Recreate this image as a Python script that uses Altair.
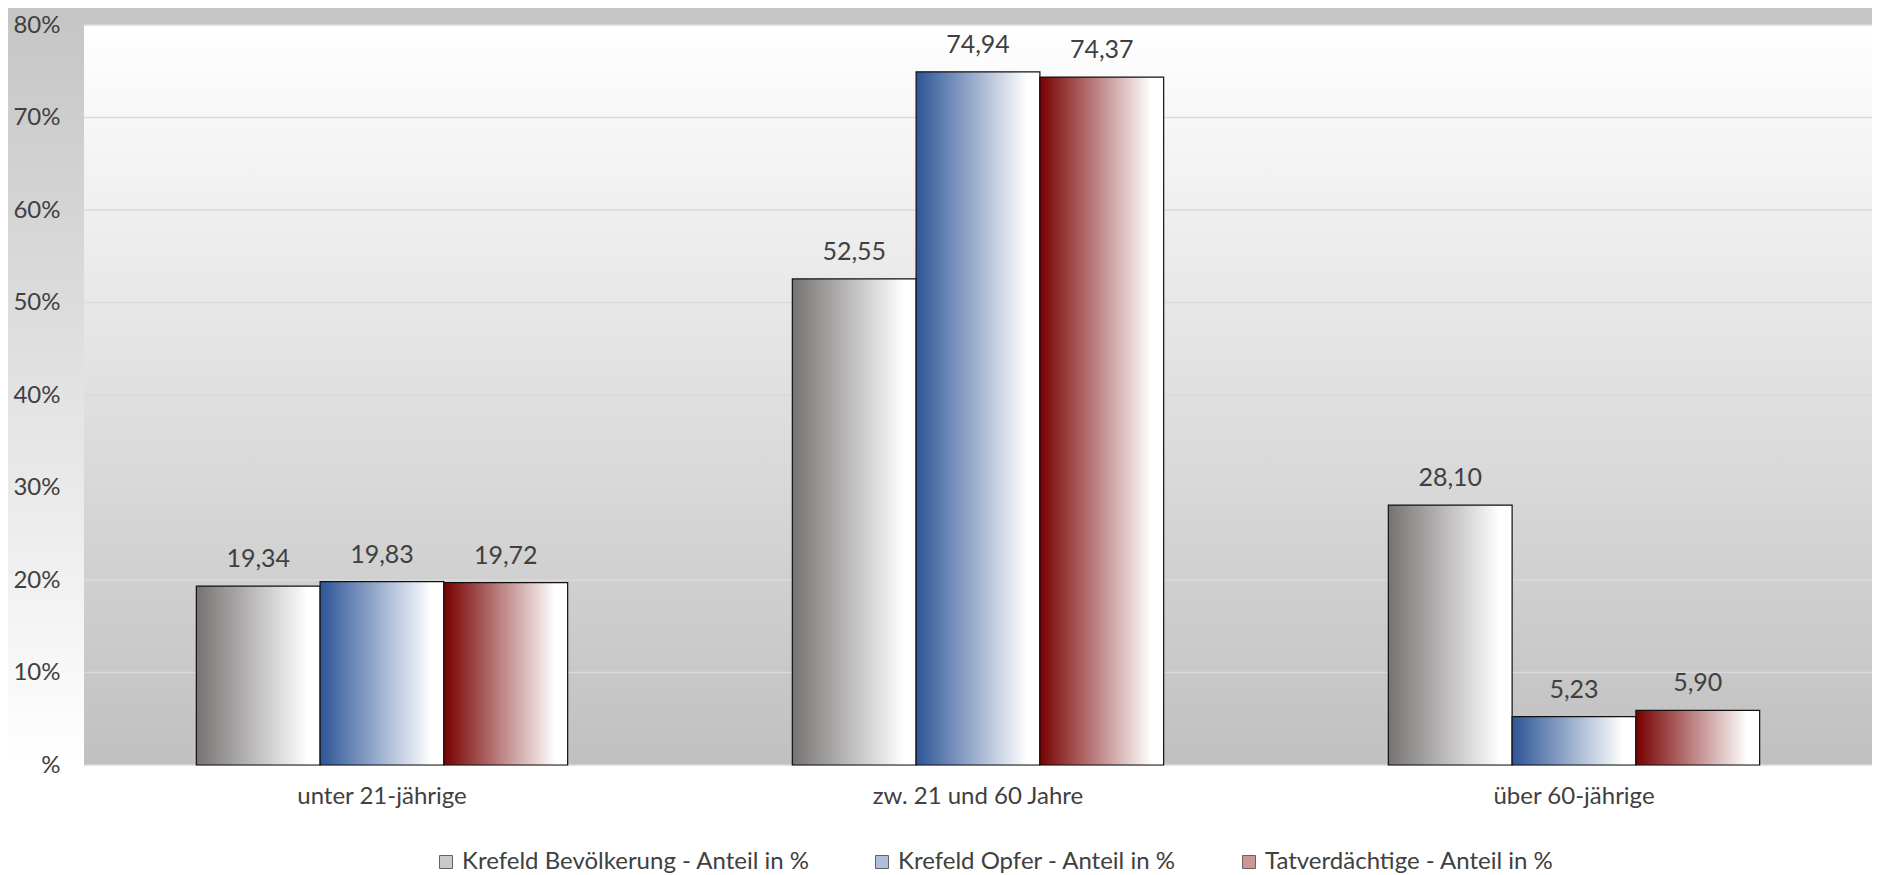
import altair as alt
import pandas as pd

groups = ["unter 21-jährige", "zw. 21 und 60 Jahre", "über 60-jährige"]
series = [
    "Krefeld Bevölkerung - Anteil in %",
    "Krefeld Opfer - Anteil in %",
    "Tatverdächtige - Anteil in %",
]
bevoelkerung = [19.34, 52.55, 28.10]
opfer = [19.83, 74.94, 5.23]
tatverdaechtige = [19.72, 74.37, 5.90]
y_ticks = [0, 10, 20, 30, 40, 50, 60, 70, 80]

bar_dark = ["#767272", "#2d5597", "#780000"]
legend_colors = ["#b4b2b2", "#8ea4cc", "#b86a6a"]

rows = []
for s, vals in zip(series, [bevoelkerung, opfer, tatverdaechtige]):
    for g, v in zip(groups, vals):
        rows.append({"group": g, "series": s, "value": v,
                     "label": f"{v:.2f}".replace(".", ",")})
df = pd.DataFrame(rows)

W, H = 1788, 740
PAD = {"left": 76, "top": 17, "right": 0, "bottom": 110}
FONT = "Lato"
TXT = "#404040"


def vgrad(stops):
    return {"gradient": "linear", "x1": 0, "x2": 0, "y1": 0, "y2": 1,
            "stops": [{"offset": o, "color": c} for o, c in stops]}


def hgrad(dark):
    return {"gradient": "linear", "x1": 0, "x2": 1, "y1": 0, "y2": 0,
            "stops": [{"offset": 0, "color": dark},
                      {"offset": 0.9, "color": "#ffffff"},
                      {"offset": 1, "color": "#ffffff"}]}


one = pd.DataFrame({"k": [0]})
total_h = H + PAD["top"] + PAD["bottom"]
white_at = (765 - 8) / total_h

chart_bg = alt.Chart(one).mark_rect(
    fill=vgrad([(0, "#c5c5c5"), (white_at, "#ffffff"), (1, "#ffffff")])
).encode(
    x=alt.value(-PAD["left"]), x2=alt.value(W + PAD["right"]),
    y=alt.value(-PAD["top"]), y2=alt.value(H + PAD["bottom"]),
)

plot_bg = alt.Chart(one).mark_rect(
    fill=vgrad([(0, "#ffffff"), (1, "#c0c0c0")])
).encode(
    x=alt.value(0), x2=alt.value(W), y=alt.value(0), y2=alt.value(H)
)

yscale = alt.Scale(domain=[0, 80], nice=False)
yaxis = alt.Axis(
    values=y_ticks, title=None, grid=False, domain=False, ticks=False,
    tickSize=0, labelPadding=24, labelFont=FONT, labelFontSize=24,
    labelColor=TXT, zindex=1,
    labelExpr="datum.value == 0 ? '%' : datum.value + '%'",
)

grid = alt.Chart(pd.DataFrame({"tick": y_ticks})).mark_rule(
    color="#dadada", strokeWidth=1.5
).encode(y=alt.Y("tick:Q", scale=yscale, axis=yaxis))

xenc = alt.X(
    "group:N", sort=groups, title=None,
    scale=alt.Scale(paddingInner=0.377, paddingOuter=0.1885),
    axis=alt.Axis(labelAngle=0, domain=False, ticks=False, grid=False,
                  labelPadding=19, labelFont=FONT, labelFontSize=24,
                  labelColor=TXT, zindex=1, labelLimit=0),
)
xoff = alt.XOffset("series:N", sort=series, scale=alt.Scale(domain=series))
yenc = alt.Y("value:Q", scale=yscale, axis=yaxis)

bars = []
for s, dark in zip(series, bar_dark):
    bars.append(
        alt.Chart(df).transform_filter(alt.datum.series == s).mark_bar(
            fill=hgrad(dark), stroke="#111111", strokeWidth=1.2
        ).encode(x=xenc, xOffset=xoff, y=yenc)
    )

labels = alt.Chart(df).mark_text(
    font=FONT, fontSize=25, color=TXT, baseline="alphabetic", dy=-19
).encode(x=xenc, xOffset=xoff, y=yenc, text="label:N")

legend_layer = alt.Chart(df).transform_filter("false").mark_square(
    filled=True, size=169
).encode(
    color=alt.Color(
        "series:N",
        scale=alt.Scale(domain=series, range=legend_colors),
        legend=alt.Legend(
            orient="none", legendX=350, legendY=825, direction="horizontal",
            columns=3, title=None, labelFont=FONT, labelFontSize=24,
            labelColor=TXT, symbolType="square", symbolSize=169,
            symbolStrokeColor="#222222", symbolStrokeWidth=1,
            columnPadding=60, labelOffset=4, padding=0, labelLimit=0,
        ),
    )
)

chart = alt.layer(
    chart_bg, plot_bg, grid, *bars, labels, legend_layer
).properties(
    width=W, height=H, padding=PAD,
    autosize=alt.AutoSizeParams(type="none"),
    background="white",
).configure_view(stroke=None)

chart.save("out.html", embed_options={"renderer": "svg", "actions": False})
